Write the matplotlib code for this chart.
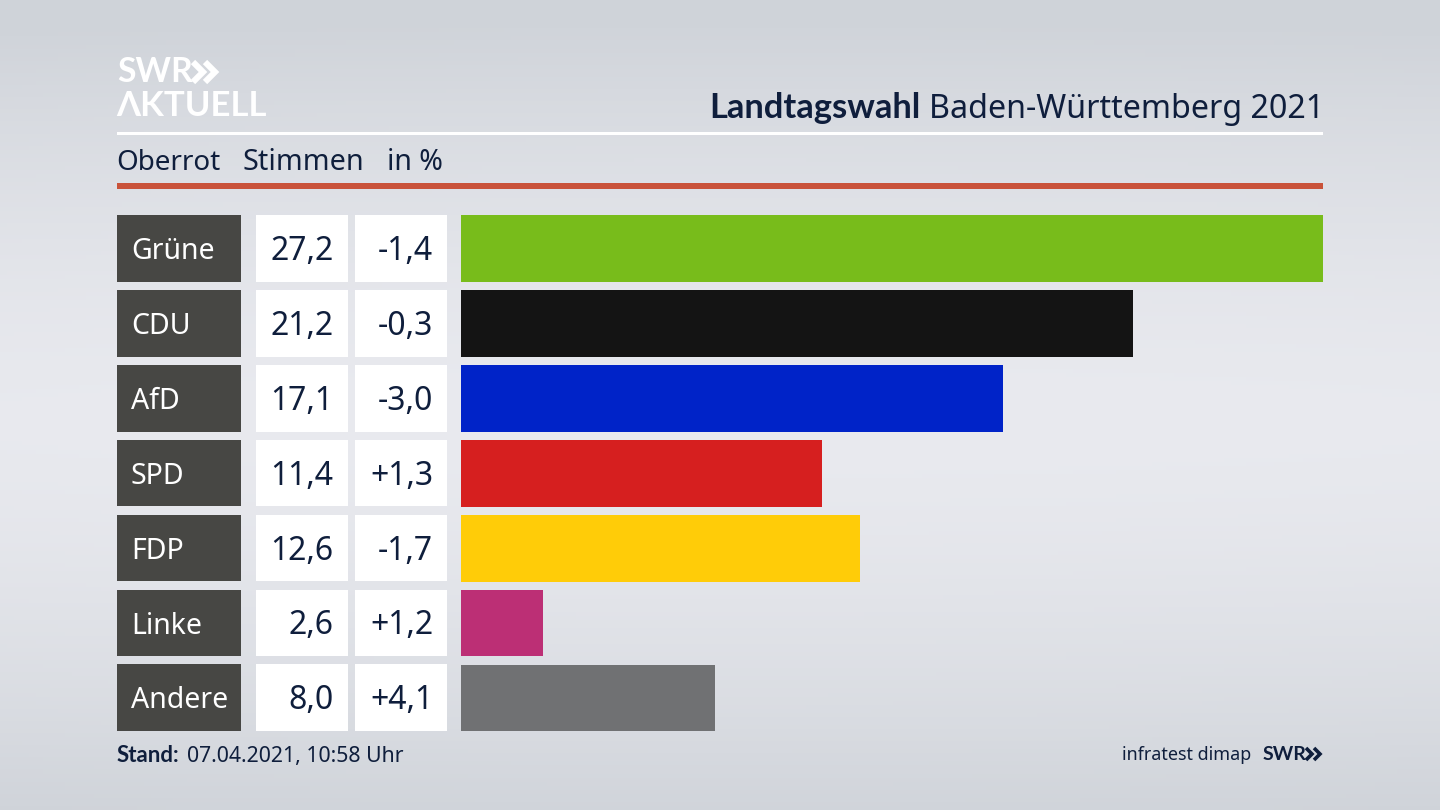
import numpy as np
import matplotlib
matplotlib.use("Agg")
import matplotlib.pyplot as plt
from matplotlib.patches import Rectangle

plt.rcParams['font.family'] = ['Noto Sans', 'DejaVu Sans']
BOLD = ['Lato', 'DejaVu Sans']

parties = ["Grüne", "CDU", "AfD", "SPD", "FDP", "Linke", "Andere"]
votes = [27.2, 21.2, 17.1, 11.4, 12.6, 2.6, 8.0]
changes = [-1.4, -0.3, -3.0, 1.3, -1.7, 1.2, 4.1]
colors = ["#78bc1b", "#141414", "#0023c8", "#d61f1f", "#ffcc08", "#bc2f75", "#707173"]

NAVY = "#0f1e3c"
W, H = 1440, 810

fig = plt.figure(figsize=(W / 100, H / 100), dpi=100)

# background and everything that is not a bar, in pixel coordinates
ax = fig.add_axes([0, 0, 1, 1])
ax.set_xlim(0, W)
ax.set_ylim(H, 0)
ax.axis("off")

yy, xx = np.mgrid[0:1:200j, 0:1:200j]
d = np.clip(np.abs(yy - 0.52) / 0.5, 0, 1) ** 1.6 + 0.12 * np.abs(xx - 0.5) ** 2
top = np.array([0xe9, 0xea, 0xef]) / 255
low = np.array([0xcf, 0xd3, 0xd9]) / 255
bg = top + (low - top) * np.clip(d, 0, 1)[..., None]
ax.imshow(bg, extent=[0, W, H, 0], aspect="auto", zorder=0)

# logo
ax.text(117, 82, "SWR", color="white", fontsize=24.3, fontweight="bold", family=BOLD, va="baseline")
ax.text(116, 116, "ΛKTUELL", color="white", fontsize=25, fontweight="bold", family=BOLD, va="baseline")
for x0 in [193, 205]:
    ax.plot([x0, x0 + 10, x0], [62, 72, 82], color="white", lw=4.4, solid_joinstyle="miter",
            solid_capstyle="butt")

# title
ax.text(920, 118, "Landtagswahl", color=NAVY, fontsize=24.8, fontweight="bold", family=BOLD, ha="right", va="baseline")
ax.text(1324, 118, "Baden-Württemberg 2021", color=NAVY, fontsize=23.2, ha="right", va="baseline")
ax.add_patch(Rectangle((117, 132), 1206, 3, color="white", lw=0))

# sub header
ax.text(116, 170, "Oberrot", color=NAVY, fontsize=20, va="baseline")
ax.text(243, 170, "Stimmen", color=NAVY, fontsize=20.7, va="baseline")
ax.text(387, 170, "in %", color=NAVY, fontsize=20.5, va="baseline")
ax.add_patch(Rectangle((117, 183), 1206, 6, color="#c9523a", lw=0))

# table on the left of the bars
for i, party in enumerate(parties):
    y0 = 215 + i * 74.9
    ax.add_patch(Rectangle((117, y0), 124, 66.7, color="#474744", lw=0))
    ax.add_patch(Rectangle((256, y0), 92, 66.7, color="white", lw=0))
    ax.add_patch(Rectangle((355, y0), 92, 66.7, color="white", lw=0))
    ax.text(131, y0 + 44, party, color="white", fontsize=20.5, va="baseline")
    ax.text(333.5, y0 + 45, f"{votes[i]:.1f}".replace(".", ","), color=NAVY, fontsize=23,
            ha="right", va="baseline")
    ax.text(433, y0 + 45, f"{changes[i]:+.1f}".replace(".", ","), color=NAVY, fontsize=23,
            ha="right", va="baseline")

# footer
ax.text(117, 762, "Stand:", color=NAVY, fontsize=16, fontweight="bold", family=BOLD, va="baseline")
ax.text(187, 762, "07.04.2021, 10:58 Uhr", color=NAVY, fontsize=15.3, va="baseline")
ax.text(1251, 760, "infratest dimap", color=NAVY, fontsize=12.9, ha="right", va="baseline")
ax.text(1263, 760, "SWR", color=NAVY, fontsize=14, fontweight="bold", family=BOLD, va="baseline")
for x0 in [1306, 1314]:
    ax.plot([x0, x0 + 6, x0], [748, 754, 760], color=NAVY, lw=2.6, solid_joinstyle="miter",
            solid_capstyle="butt")

# bars
ax_bars = fig.add_axes([461 / W, 1 - 731.5 / H, 862 / W, 516.5 / H])
ax_bars.barh(range(len(parties)), votes, height=0.89, color=colors)
ax_bars.set_xlim(0, 27.2)
ax_bars.set_ylim(6.447, -0.447)
ax_bars.axis("off")

fig.savefig("out.png", dpi=100)
